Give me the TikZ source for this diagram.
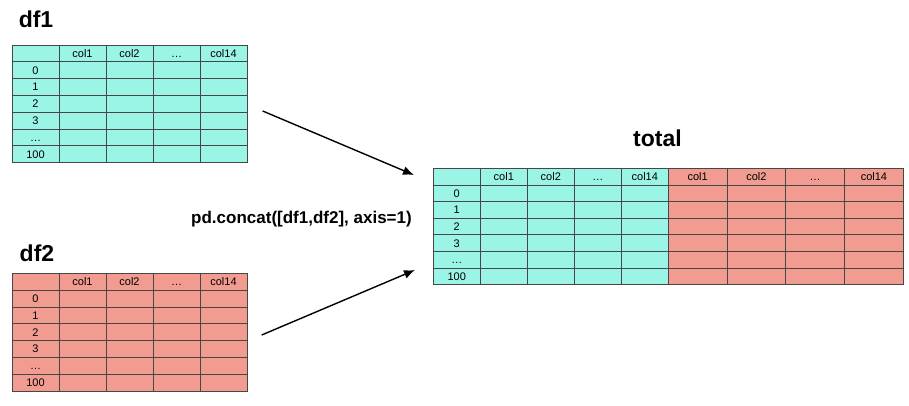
\documentclass[tikz,border=0pt]{standalone}
\usepackage{fontspec}
\setmainfont{Liberation Sans}
\usetikzlibrary{arrows.meta}

\definecolor{dfcyan}{HTML}{9AF5E6}
\definecolor{dfred}{HTML}{F29B90}

\tikzset{
	celltext/.style={font=\fontsize{11}{12}\selectfont, inner sep=0pt, anchor=base},
	dftitle/.style={font=\fontsize{23}{26}\selectfont\bfseries, inner sep=0pt},
	opnote/.style={font=\fontsize{17}{19}\selectfont\bfseries, inner sep=0pt},
	gridline/.style={draw=black!72, line width=0.7pt},
	arrow/.style={-{Latex[length=11pt,width=9pt]}, line width=1.4pt},
}

\begin{document}
\begin{tikzpicture}[x=1pt,y=-1pt]
	\useasboundingbox (0,0) rectangle (909,405);

	% titles
	\node[dftitle] (df1) at (36,19.2)     {df1};
	\node[dftitle] (df2) at (37,253.3)    {df2};
	\node[dftitle] (total) at (657.5,138.5) {total};

	% df1
	\fill[dfcyan] (12,45) rectangle (247,162.6);
	\foreach \i in {1,...,6}
		\draw[gridline] (12,{45+16.8*\i}) -- (247,{45+16.8*\i});
	\foreach \i in {1,...,4}
		\draw[gridline] ({12+47*\i},45) -- ({12+47*\i},162.6);
	\draw[gridline] (12,45) rectangle (247,162.6);
	\foreach \t [count=\k] in {col1,col2,…,col14}
		\node[celltext] (a-h\k) at ({12+47*\k+23.5},{45+8.4+3.9}) {\t};
	\foreach \t [count=\k] in {0,1,2,3,…,100}
		\node[celltext] (a-r\k) at (35.5,{45+16.8*\k+8.4+3.9}) {\t};

	% df2
	\fill[dfred] (12,273.3) rectangle (247,390.9);
	\foreach \i in {1,...,6}
		\draw[gridline] (12,{273.3+16.8*\i}) -- (247,{273.3+16.8*\i});
	\foreach \i in {1,...,4}
		\draw[gridline] ({12+47*\i},273.3) -- ({12+47*\i},390.9);
	\draw[gridline] (12,273.3) rectangle (247,390.9);
	\foreach \t [count=\k] in {col1,col2,…,col14}
		\node[celltext] (b-h\k) at ({12+47*\k+23.5},{273.3+8.4+3.9}) {\t};
	\foreach \t [count=\k] in {0,1,2,3,…,100}
		\node[celltext] (b-r\k) at (35.5,{273.3+16.8*\k+8.4+3.9}) {\t};

	% total
	\fill[dfcyan] (433.3,168.3) rectangle (668.3,284.7);
	\fill[dfred] (668.3,168.3) rectangle (903.3,284.7);
	\foreach \i in {1,...,6}
		\draw[gridline] (433.3,{168.3+16.63*\i}) -- (903.3,{168.3+16.63*\i});
	\foreach \i in {1,...,5}
		\draw[gridline] ({433.3+47*\i},168.3) -- ({433.3+47*\i},284.7);
	\foreach \i in {1,...,3}
		\draw[gridline] ({668.3+58.75*\i},168.3) -- ({668.3+58.75*\i},284.7);
	\draw[gridline] (433.3,168.3) rectangle (903.3,284.7);
	\foreach \t [count=\k] in {col1,col2,…,col14}
		\node[celltext] (t-h\k) at ({433.3+47*\k+23.5},{168.3+8.3+3.9}) {\t};
	\foreach \t [count=\k] in {col1,col2,…,col14}
		\node[celltext] (t-g\k) at ({668.3+58.75*\k-29.4},{168.3+8.3+3.9}) {\t};
	\foreach \t [count=\k] in {0,1,2,3,…,100}
		\node[celltext] (t-r\k) at (456.8,{168.3+16.63*\k+8.3+3.9}) {\t};

	% concat arrows
	\coordinate (from1) at (262.7,111);
	\coordinate (to1) at (414,175);
	\coordinate (from2) at (261.7,335);
	\coordinate (to2) at (415,270);
	\draw[arrow] (from1) -- (to1);
	\draw[arrow] (from2) -- (to2);

	\node[opnote] (concat) at (301.5,219) {pd.concat([df1,df2], axis=1)};
\end{tikzpicture}
\end{document}
